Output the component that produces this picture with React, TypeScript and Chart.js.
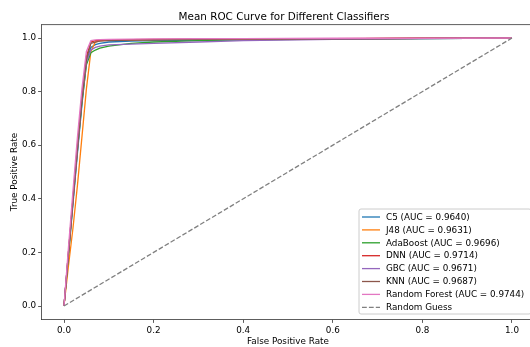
import React, { useEffect, useRef } from 'react';
import { Chart, registerables } from 'chart.js';
Chart.register(...registerables);

// Mean false positive rate grid shared by all classifiers
const FPR = [0, 0.01, 0.02, 0.03, 0.04, 0.05, 0.06, 0.07, 0.08, 0.1, 0.15, 0.2, 0.3, 0.4, 0.6, 0.8, 1.0];

// Mean true positive rates per classifier
const TPR_C5 = [0, 0.19, 0.38, 0.57, 0.75, 0.91, 0.965, 0.975, 0.98, 0.985, 0.988, 0.99, 0.992, 0.994, 0.996, 0.998, 1];
const TPR_J48 = [0, 0.15, 0.29, 0.45, 0.63, 0.81, 0.95, 0.985, 0.99, 0.992, 0.993, 0.994, 0.995, 0.996, 0.997, 0.999, 1];
const TPR_ADABOOST = [0, 0.19, 0.39, 0.58, 0.76, 0.9, 0.945, 0.955, 0.962, 0.97, 0.98, 0.985, 0.99, 0.993, 0.996, 0.998, 1];
const TPR_DNN = [0, 0.2, 0.4, 0.6, 0.78, 0.93, 0.985, 0.99, 0.992, 0.993, 0.994, 0.995, 0.996, 0.997, 0.998, 0.999, 1];
const TPR_GBC = [0, 0.2, 0.39, 0.58, 0.77, 0.91, 0.955, 0.965, 0.97, 0.974, 0.977, 0.98, 0.985, 0.99, 0.995, 0.998, 1];
const TPR_KNN = [0, 0.2, 0.4, 0.59, 0.77, 0.92, 0.98, 0.985, 0.988, 0.99, 0.992, 0.993, 0.995, 0.996, 0.997, 0.999, 1];
const TPR_RF = [0, 0.22, 0.43, 0.63, 0.81, 0.95, 0.99, 0.993, 0.994, 0.995, 0.996, 0.997, 0.998, 0.998, 0.999, 0.999, 1];

const MODEL_NAMES = ['C5', 'J48', 'AdaBoost', 'DNN', 'GBC', 'KNN', 'Random Forest'];
const MODEL_AUCS = ['0.9640', '0.9631', '0.9696', '0.9714', '0.9671', '0.9687', '0.9744'];
const MODEL_TPRS = [TPR_C5, TPR_J48, TPR_ADABOOST, TPR_DNN, TPR_GBC, TPR_KNN, TPR_RF];
const MODEL_COLORS = ['#1f77b4', '#ff7f0e', '#2ca02c', '#d62728', '#9467bd', '#8c564b', '#e377c2'];

const GUESS_X = [0, 1];
const GUESS_Y = [0, 1];
const GUESS_LABEL = 'Random Guess';

const TICKS = [0, 0.2, 0.4, 0.6, 0.8, 1.0];
const TITLE = 'Mean ROC Curve for Different Classifiers';
const X_LABEL = 'False Positive Rate';
const Y_LABEL = 'True Positive Rate';

const FONT = '"DejaVu Sans", sans-serif';
const W = 540;
const H = 347;

export default function App() {
  const ref = useRef<HTMLCanvasElement>(null);
  useEffect(() => {
    document.body.style.overflow = 'hidden';
    const canvas = ref.current!;
    const datasets: any[] = MODEL_NAMES.map((name, i) => ({
      label: `${name} (AUC = ${MODEL_AUCS[i]})`,
      data: FPR.map((x, j) => ({ x, y: MODEL_TPRS[i][j] })),
      borderColor: MODEL_COLORS[i],
      backgroundColor: MODEL_COLORS[i],
      borderWidth: 1.3,
      pointRadius: 0,
      fill: false,
      tension: 0,
      order: MODEL_NAMES.length + 1 - i,
    }));
    datasets.push({
      label: GUESS_LABEL,
      data: GUESS_X.map((x, j) => ({ x, y: GUESS_Y[j] })),
      borderColor: '#808080',
      backgroundColor: '#808080',
      borderWidth: 1.3,
      borderDash: [4.8, 2.1],
      pointRadius: 0,
      fill: false,
      order: 1,
    });

    const decor = {
      id: 'decor',
      afterDraw(chart: any) {
        const ctx = chart.ctx;
        const a = chart.chartArea;
        ctx.save();
        // top & right spines
        ctx.strokeStyle = '#333';
        ctx.lineWidth = 0.8;
        ctx.beginPath();
        ctx.moveTo(a.left, a.top);
        ctx.lineTo(a.right, a.top);
        ctx.lineTo(a.right, a.bottom);
        ctx.stroke();
        // title
        ctx.fillStyle = '#000';
        ctx.font = `10.4px ${FONT}`;
        ctx.textAlign = 'center';
        ctx.textBaseline = 'alphabetic';
        ctx.fillText(TITLE, 284, a.top - 5);
        // legend
        const items = chart.data.datasets;
        const bx = 359, by = 209, bw = 172, bh = 105;
        ctx.fillStyle = 'rgba(255,255,255,0.8)';
        ctx.strokeStyle = '#cccccc';
        ctx.lineWidth = 1;
        const r = 2;
        ctx.beginPath();
        ctx.moveTo(bx + r, by);
        ctx.lineTo(bx + bw - r, by);
        ctx.arcTo(bx + bw, by, bx + bw, by + r, r);
        ctx.lineTo(bx + bw, by + bh - r);
        ctx.arcTo(bx + bw, by + bh, bx + bw - r, by + bh, r);
        ctx.lineTo(bx + r, by + bh);
        ctx.arcTo(bx, by + bh, bx, by + bh - r, r);
        ctx.lineTo(bx, by + r);
        ctx.arcTo(bx, by, bx + r, by, r);
        ctx.closePath();
        ctx.fill();
        ctx.stroke();
        ctx.font = `8.8px ${FONT}`;
        ctx.textAlign = 'left';
        ctx.textBaseline = 'middle';
        items.forEach((d: any, i: number) => {
          const y = 217 + i * 12.9;
          ctx.strokeStyle = d.borderColor;
          ctx.lineWidth = d.borderWidth;
          ctx.setLineDash(d.borderDash || []);
          ctx.beginPath();
          ctx.moveTo(362, y);
          ctx.lineTo(380, y);
          ctx.stroke();
          ctx.setLineDash([]);
          ctx.fillStyle = '#000';
          ctx.fillText(d.label, 386, y + 0.5);
        });
        ctx.restore();
      },
    };

    const tickFn = (scale: any) => {
      scale.ticks = TICKS.map((v) => ({ value: v }));
    };

    const chart = new Chart(canvas, {
      type: 'line',
      data: { datasets },
      options: {
        responsive: false,
        animation: false,
        events: [],
        layout: { padding: { left: 0, top: 24.6, right: W - 534.4, bottom: 0 } },
        plugins: { legend: { display: false }, tooltip: { enabled: false }, title: { display: false } },
        scales: {
          x: {
            type: 'linear',
            min: -0.05,
            max: 1.05,
            afterBuildTicks: tickFn,
            afterFit: (s: any) => {
              s.height = H - 319.4;
              s.paddingLeft = 0;
              s.paddingRight = 0;
            },
            ticks: {
              callback: (v: any) => Number(v).toFixed(1),
              font: { family: FONT, size: 8.8 },
              color: '#000',
              padding: 3,
              maxRotation: 0,
              autoSkip: false,
            },
            grid: { display: true, drawOnChartArea: false, drawTicks: true, tickLength: 3.5, color: '#333', tickWidth: 0.8 },
            border: { display: true, color: '#333', width: 0.8 },
            title: { display: true, text: X_LABEL, font: { family: FONT, size: 8.8 }, color: '#000', padding: { top: 0, bottom: 0.5 } },
          },
          y: {
            type: 'linear',
            min: -0.05,
            max: 1.05,
            afterBuildTicks: tickFn,
            afterFit: (s: any) => {
              s.width = 41.6;
              s.paddingTop = 0;
              s.paddingBottom = 0;
            },
            ticks: {
              callback: (v: any) => Number(v).toFixed(1),
              font: { family: FONT, size: 8.8 },
              color: '#000',
              padding: 2,
              autoSkip: false,
            },
            grid: { display: true, drawOnChartArea: false, drawTicks: true, tickLength: 3.5, color: '#333', tickWidth: 0.8 },
            border: { display: true, color: '#333', width: 0.8 },
            title: { display: true, text: Y_LABEL, font: { family: FONT, size: 8.8 }, color: '#000', padding: { top: 9, bottom: 0 } },
          },
        },
      },
      plugins: [decor],
    });
    return () => chart.destroy();
  }, []);
  return (
    <div style={{ position: 'absolute', left: 0, top: 0, width: W, height: H, background: '#fff' }}>
      <canvas ref={ref} width={W} height={H} style={{ display: 'block' }} />
    </div>
  );
}
